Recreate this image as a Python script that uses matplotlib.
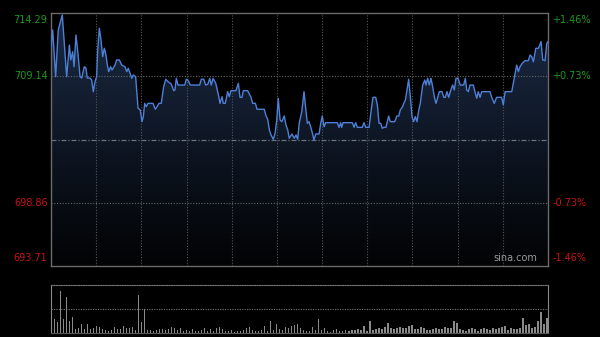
import numpy as np
import matplotlib
matplotlib.use("Agg")
import matplotlib.pyplot as plt

##########
########## Donnees
##########

prev_close = 704.00
y_ticks = [693.71, 698.86, 709.14, 714.29]
y_labels = ["693.71", "698.86", "709.14", "714.29"]
pct_labels = ["-1.46%", "-0.73%", "+0.73%", "+1.46%"]

# minutes depuis l'ouverture (330 min) et prix
minutes = [0, 1.1, 3.1, 4.8, 7.5, 10.4, 12.2, 13.1, 14.4, 15.3, 16.6, 18.1, 19.3, 20.4,
           22.1, 23.2, 24.1, 25.9, 27.0, 28.1, 29.2, 30.3, 31.0, 32.1, 33.2, 34.3, 35.4,
           36.5, 37.4, 38.3, 39.6, 40.5, 42.5, 43.6, 45.4, 46.9, 49.1, 50.3, 51.3, 52.5,
           53.6, 54.6, 56.2, 57.8, 59.3, 60.4, 61.3, 62.2, 63.3, 64.4, 67.7, 69.3, 70.4,
           71.7, 73.2, 74.8, 76.2, 77.7, 79.9, 81.5, 82.3, 83.2, 84.3, 88.8, 89.8, 90.9,
           92.5, 98.7, 99.8, 101.4, 102.7, 104.2, 105.4, 106.4, 107.6, 109.4, 111.4,
           112.2, 113.6, 114.4, 115.7, 117.3, 118.4, 119.5, 122.8, 124.4, 125.5, 126.8,
           127.7, 130.6, 132.8, 133.9, 135.7, 136.8, 141.6, 142.8, 143.9, 145.0, 146.1,
           147.6, 148.8, 149.9, 150.9, 152.1, 153.2, 154.9, 156.0, 157.2, 158.2, 160.0,
           161.5, 162.7, 163.8, 164.8, 166.5, 168.0, 169.1, 170.2, 171.3, 172.4, 173.5,
           174.6, 175.8, 178.0, 179.1, 180.1, 181.3, 182.4, 190.1, 191.2, 192.3, 193.0,
           193.9, 200.1, 201.2, 202.3, 203.4, 206.7, 207.8, 209.0, 211.2, 212.9, 213.8,
           215.6, 216.7, 217.8, 218.9, 220.0, 220.9, 222.4, 224.2, 225.3, 228.2, 229.7,
           230.9, 231.9, 233.5, 234.2, 235.3, 236.4, 237.5, 238.6, 239.7, 240.8, 241.9,
           243.0, 244.2, 245.2, 246.8, 248.2, 249.0, 250.1, 251.2, 252.3, 253.4, 254.5,
           255.6, 256.8, 257.8, 259.6, 260.8, 261.8, 262.9, 264.1, 265.1, 266.7, 267.8,
           268.9, 270.2, 271.8, 274.0, 275.1, 276.0, 277.1, 278.2, 280.4, 281.5, 282.7,
           283.7, 284.9, 286.0, 291.5, 292.6, 294.3, 295.9, 299.2, 300.3, 301.5, 305.9,
           307.6, 309.2, 310.3, 311.4, 312.9, 314.7, 316.9, 318.1, 319.2, 320.3, 321.9,
           323.6, 325.4, 326.5, 328.0, 329.2, 330.0]
prices = [711.55, 712.91, 709.11, 712.91, 714.13, 709.11, 711.69, 710.47, 711.14, 709.92,
          712.50, 710.74, 709.11, 709.00, 709.92, 709.82, 709.00, 709.00, 708.84, 707.89,
          708.70, 709.11, 711.28, 713.05, 712.09, 710.74, 711.42, 710.87, 710.06, 709.52,
          709.92, 709.65, 710.06, 710.47, 710.47, 710.06, 709.92, 709.52, 709.79, 709.39,
          708.98, 709.25, 709.11, 706.54, 706.40, 705.45, 705.86, 706.94, 706.67, 706.94,
          706.94, 706.46, 706.67, 706.94, 706.94, 708.30, 708.90, 708.70, 708.51, 707.97,
          708.03, 708.98, 708.43, 708.43, 708.90, 708.84, 708.43, 708.43, 708.90, 708.90,
          708.43, 708.51, 708.98, 708.43, 708.98, 708.57, 707.48, 706.94, 707.48, 706.94,
          706.94, 707.89, 707.48, 707.97, 707.97, 708.57, 707.43, 707.43, 707.97, 707.97,
          707.43, 706.94, 706.94, 706.46, 706.46, 705.91, 705.64, 704.77, 704.37, 704.02,
          704.51, 705.59, 707.35, 705.59, 705.45, 705.91, 705.18, 704.77, 704.10, 704.45,
          704.10, 704.37, 704.02, 705.32, 706.26, 707.89, 706.54, 705.32, 705.45, 705.04,
          704.55, 703.96, 704.45, 704.45, 705.32, 705.91, 705.04, 705.37, 705.37, 704.99,
          705.37, 704.99, 705.37, 705.37, 704.99, 705.37, 704.99, 704.99, 705.37, 704.99,
          704.99, 706.67, 707.43, 707.43, 706.81, 705.32, 705.32, 704.91, 704.99, 704.99,
          705.91, 705.45, 705.45, 705.91, 705.91, 706.40, 706.67, 706.94, 707.21, 708.03,
          708.90, 707.48, 705.86, 705.45, 705.86, 705.45, 706.40, 706.94, 708.43, 708.84,
          708.43, 708.98, 708.43, 708.98, 708.30, 707.48, 706.94, 707.43, 707.89, 707.89,
          707.43, 707.43, 707.89, 707.43, 707.89, 708.43, 708.03, 708.98, 708.98, 708.43,
          708.43, 708.98, 708.03, 707.89, 708.43, 708.43, 707.89, 707.35, 707.89, 707.43,
          707.89, 707.89, 707.43, 706.94, 707.43, 707.43, 706.81, 707.89, 707.89, 708.98,
          710.06, 709.52, 709.92, 710.20, 710.41, 710.41, 710.87, 710.74, 710.33, 711.42,
          711.42, 711.96, 710.47, 710.41, 711.83, 711.96]

# volumes (echelle relative, 100 = haut du panneau), une barre toutes les 2 minutes
volumes = [61, 29, 22, 88, 29, 74, 26, 33, 9, 11, 19, 8, 18, 9, 11, 15, 13, 9, 6, 5,
           7, 13, 8, 9, 14, 11, 10, 13, 6, 79, 22, 50, 6, 7, 5, 6, 9, 8, 6, 9,
           12, 10, 6, 11, 5, 6, 4, 8, 5, 4, 6, 10, 5, 8, 4, 10, 12, 8, 5, 4,
           6, 3, 5, 4, 7, 10, 12, 6, 5, 4, 6, 15, 5, 26, 6, 19, 9, 7, 13, 11,
           14, 17, 19, 11, 6, 4, 5, 13, 6, 29, 7, 11, 4, 3, 6, 8, 4, 5, 6, 5,
           6, 7, 9, 6, 15, 5, 26, 6, 9, 11, 8, 13, 21, 11, 9, 11, 13, 11, 10, 15,
           17, 9, 8, 13, 11, 7, 6, 9, 11, 8, 9, 13, 11, 10, 24, 20, 9, 7, 5, 9,
           11, 8, 5, 9, 11, 9, 7, 11, 9, 11, 13, 15, 6, 11, 8, 9, 11, 31, 17, 19,
           11, 13, 24, 44, 19, 31]

##########
########## Figure
##########

fig = plt.figure(figsize=(6, 3.37), dpi=100, facecolor="black")
ax = fig.add_axes([51/600, 71/337, 497/600, 253/337], facecolor="black")
axv = fig.add_axes([51/600, 4/337, 497/600, 48/337], facecolor="black")

x = np.array(minutes)
y = np.array(prices)
ymin, ymax = y_ticks[0], y_ticks[-1]

# remplissage en degrade sous la courbe
poly = ax.fill_between(x, y, ymin, color="none", lw=0)
grad = np.linspace(1, 0, 256).reshape(-1, 1)
cmap = matplotlib.colors.LinearSegmentedColormap.from_list("g", ["#020304", "#1b2a45"])
img = ax.imshow(grad, extent=[0, 330, ymin, ymax], aspect="auto", cmap=cmap,
                origin="upper", zorder=1)
img.set_clip_path(poly.get_paths()[0], transform=ax.transData)

# grille
for t in range(30, 330, 30):
    ax.axvline(t, color="#555555", lw=0.8, ls=(0, (1, 1.5)), zorder=2)
for v in [y_ticks[1], y_ticks[2]]:
    ax.axhline(v, color="#666666", lw=0.8, ls=(0, (1, 1.5)), zorder=2)
ax.axhline(prev_close, color="#667080", lw=0.9, ls=(0, (4, 1.5, 1, 1.5)), zorder=2)

ax.plot(x, y, color="#4d80d6", lw=1.0, zorder=3)

ax.set_xlim(0, 330)
ax.set_ylim(ymin, ymax)
ax.set_xticks([])
ax.set_yticks([])
for s in ax.spines.values():
    s.set_color("#6a6a6a")
    s.set_linewidth(1)

# libelles des axes
green = "#1d9a1d"
red = "#c81414"
offs = [6, 0, 0, -5]
for v, lab, pl, o in zip(y_ticks, y_labels, pct_labels, offs):
    c = green if v > prev_close else red
    ax.annotate(lab, (0, v), xycoords=("axes fraction", "data"), xytext=(-2.5, o),
                textcoords="offset points", ha="right", va="center", color=c, fontsize=7)
    ax.annotate(pl, (1, v), xycoords=("axes fraction", "data"), xytext=(3, o),
                textcoords="offset points", ha="left", va="center", color=c, fontsize=7)

ax.text(0.978, 0.012, "sina.com", transform=ax.transAxes, ha="right", va="bottom",
        color="#9a9a9a", fontsize=7)

# volumes
vx = np.arange(len(volumes)) * 2
axv.bar(vx, volumes, width=0.8, color="#8a8a8a", align="edge")
axv.set_xlim(0, 331)
axv.set_ylim(0, 100)
axv.axhline(50, color="#777777", lw=0.8, ls=(0, (1, 1.2)))
axv.set_xticks([])
axv.set_yticks([])
axv.spines["top"].set_color("#777777")
axv.spines["top"].set_linestyle((0, (1, 1.2)))
axv.spines["top"].set_linewidth(0.8)
axv.spines["bottom"].set_color("#555555")
axv.spines["left"].set_color("#8a8a8a")
axv.spines["right"].set_color("#8a8a8a")

fig.savefig("out.png", dpi=100, facecolor="black")
